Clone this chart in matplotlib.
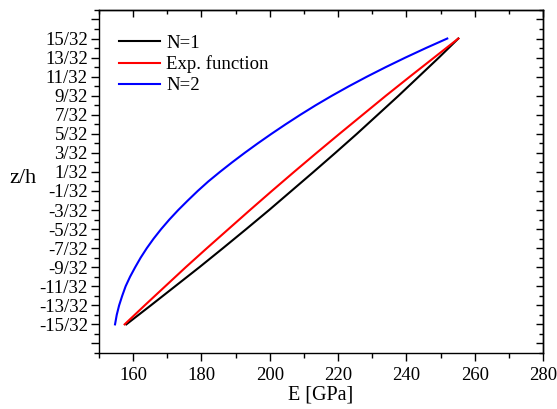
"""Young's modulus through the thickness: E vs z/h for three gradation laws."""

import matplotlib

matplotlib.use("Agg")
import matplotlib.pyplot as plt
from matplotlib.ticker import FixedLocator, MultipleLocator, NullFormatter

plt.rcParams["font.family"] = ["Liberation Serif", "DejaVu Serif"]

# z/h in units of 1/32
Z_ODD = [-15, -13, -11, -9, -7, -5, -3, -1, 1, 3, 5, 7, 9, 11, 13, 15]
Z_ALL = list(range(-15, 16))

# E [GPa]
E_N1 = [158.0, 165.2, 172.3, 179.4, 186.3, 193.1, 199.8, 206.3,
        212.8, 219.2, 225.5, 231.6, 237.7, 243.6, 249.5, 255.2]
E_EXP = [157.5, 163.4, 169.4, 175.4, 181.6, 187.9, 194.2, 200.6,
         207.1, 213.7, 220.4, 227.2, 234.0, 241.0, 248.1, 255.2]
E_N2 = [154.7, 155.2, 155.9, 156.8, 157.8, 159.1, 160.6, 162.2,
        164.0, 166.0, 168.2, 170.6, 173.2, 176.0, 178.9, 182.0,
        185.4, 188.95, 192.65, 196.5, 200.5, 204.65, 208.95, 213.45,
        218.2, 223.2, 228.45, 233.95, 239.7, 245.7, 251.95]

Y_TICKS = list(range(-17, 18, 2))
Y_LABELS = ["" if abs(k) == 17 else f"{k}/32" for k in Y_TICKS]

FS = 13.5

fig = plt.figure(figsize=(5.57, 4.09), dpi=100)
ax = fig.add_axes([0.1777, 0.137, 0.7973, 0.8387])

ax.plot(E_N1, [k / 32 for k in Z_ODD], color="black", lw=1.5, label="N=1")
ax.plot(E_EXP, [k / 32 for k in Z_ODD], color="red", lw=1.5, label="Exp. function")
ax.plot(E_N2, [k / 32 for k in Z_ALL], color="blue", lw=1.5, label="N=2")

ax.set_xlim(150, 280)
ax.set_ylim(-18 / 32, 18 / 32)

ax.xaxis.set_major_locator(MultipleLocator(20))
ax.xaxis.set_minor_locator(MultipleLocator(10))
ax.yaxis.set_major_locator(FixedLocator([k / 32 for k in Y_TICKS]))
ax.yaxis.set_minor_locator(FixedLocator([k / 32 for k in range(-18, 19, 2)]))
ax.set_yticklabels(Y_LABELS)

ax.tick_params(which="both", direction="out", labelsize=FS, width=1.0)
ax.tick_params(which="major", length=6)
ax.tick_params(which="minor", length=3.5)
ax.tick_params(axis="y", pad=2)
ax.tick_params(axis="x", pad=4)

# mirrored inward ticks on top and right
top = ax.secondary_xaxis("top")
top.xaxis.set_major_locator(MultipleLocator(20))
top.xaxis.set_minor_locator(MultipleLocator(10))
top.xaxis.set_major_formatter(NullFormatter())
top.tick_params(which="both", direction="in", width=1.0)
top.tick_params(which="major", length=5)
top.tick_params(which="minor", length=3)

right = ax.secondary_yaxis("right")
right.yaxis.set_major_locator(FixedLocator([k / 32 for k in Y_TICKS]))
right.yaxis.set_minor_locator(FixedLocator([k / 32 for k in range(-18, 19, 2)]))
right.yaxis.set_major_formatter(NullFormatter())
right.tick_params(which="both", direction="in", width=1.0)
right.tick_params(which="major", length=5)
right.tick_params(which="minor", length=3)

for sp in list(ax.spines.values()) + [top.spines["top"], right.spines["right"]]:
    sp.set_linewidth(1.0)

ax.set_xlabel("E [GPa]", fontsize=FS + 1, labelpad=1)
ax.set_ylabel("z/h", fontsize=16, rotation=0, va="center", ha="center")
ax.yaxis.set_label_coords(-0.172, 0.51)

ax.legend(loc="upper left", bbox_to_anchor=(0.02, 0.961), frameon=False,
          fontsize=FS, handlelength=2.2, handletextpad=0.3, labelspacing=0.2,
          borderaxespad=0.2)

fig.savefig("out.png", dpi=100)
